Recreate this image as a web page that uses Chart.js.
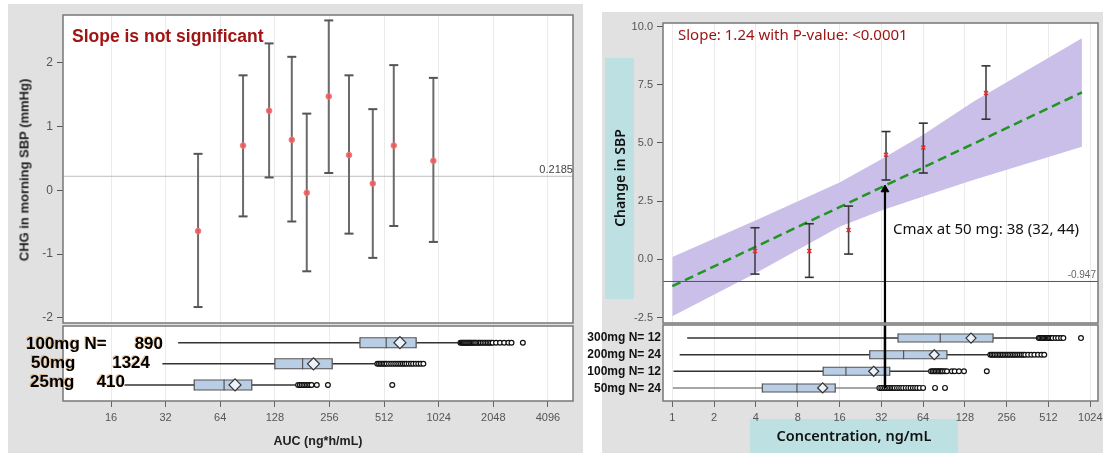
<!DOCTYPE html>
<html><head><meta charset="utf-8">
<script src="https://cdn.jsdelivr.net/npm/chart.js@4/dist/chart.umd.min.js"></script>
<style>
html,body{margin:0;padding:0;background:#fff;width:1103px;height:453px;overflow:hidden;font-family:"Liberation Sans",Arial,sans-serif;}
.bg{position:absolute;}
canvas{position:absolute;}
.t{position:absolute;white-space:nowrap;line-height:1;}
.rot{position:absolute;white-space:nowrap;line-height:1;transform:translate(-50%,-50%) rotate(-90deg);}
.row{font-weight:bold;font-size:17px;color:#000;text-shadow:-1px -1px 0 rgba(220,130,40,0.45);}
.rrow{font-weight:bold;font-size:12px;color:#111;text-align:right;width:80px;}
</style></head><body>
<div class="bg" style="left:8px;top:4px;width:575px;height:449px;background:#e1e1e1"></div>
<div class="bg" style="left:602px;top:12px;width:501px;height:441px;background:#e1e1e1"></div>
<div class="bg" style="left:605px;top:58px;width:29px;height:241px;background:#bde1e3"></div>
<div class="bg" style="left:750px;top:419px;width:208px;height:34px;background:#bde1e3"></div>

<canvas id="lt" width="572" height="320" style="left:8px;top:4px"></canvas>
<canvas id="lb" width="572" height="129" style="left:8px;top:324px"></canvas>
<canvas id="rt" width="501" height="312" style="left:602px;top:12px"></canvas>
<canvas id="rb" width="501" height="130" style="left:602px;top:323px"></canvas>

<!-- left panel texts -->
<div class="t" style="left:72px;top:28px;font-size:17.5px;font-weight:bold;color:#a01414">Slope is not significant</div>
<div class="t" style="left:500px;width:73px;text-align:right;top:164px;font-size:11px;color:#444">0.2185</div>
<div class="rot" style="left:24px;top:170px;font-size:13px;font-weight:bold;color:#222">CHG in morning SBP (mmHg)</div>
<div class="t" style="left:258px;width:120px;text-align:center;top:435px;font-size:12.5px;font-weight:bold;color:#222">AUC (ng*h/mL)</div>
<div class="t row" style="left:26px;top:335px">100mg N=</div>
<div class="t row" style="left:103px;width:60px;text-align:right;top:335px">890</div>
<div class="t row" style="left:31px;top:354px">50mg</div>
<div class="t row" style="left:90px;width:60px;text-align:right;top:354px">1324</div>
<div class="t row" style="left:30px;top:373px">25mg</div>
<div class="t row" style="left:65px;width:60px;text-align:right;top:373px">410</div>

<!-- right panel texts -->
<div class="t" style="left:678px;top:27px;font-size:15px;font-family:'Noto Sans',sans-serif;color:#9c1010">Slope: 1.24 with P-value: &lt;0.0001</div>
<div class="t" style="left:893px;top:221px;font-size:15px;font-family:'Noto Sans',sans-serif;color:#111">Cmax at 50 mg: 38 (32, 44)</div>
<div class="t" style="left:1040px;width:56px;text-align:right;top:270px;font-size:10px;color:#666">-0.947</div>
<div class="rot" style="left:620px;top:178px;font-size:14px;font-weight:600;font-family:'Noto Sans',sans-serif;color:#111">Change in SBP</div>
<div class="t" style="left:750px;width:208px;text-align:center;top:428px;font-size:14.5px;font-weight:600;font-family:'Noto Sans',sans-serif;color:#111">Concentration, ng/mL</div>
<div class="t rrow" style="left:581px;top:331px">300mg N= 12</div>
<div class="t rrow" style="left:581px;top:348px">200mg N= 24</div>
<div class="t rrow" style="left:581px;top:365px">100mg N= 12</div>
<div class="t rrow" style="left:581px;top:382px">50mg N= 24</div>

<script>
// ---------- LEFT PANEL DATA ----------
const aucMid   = [48.3, 85.5, 119, 158.7, 191.9, 253.7, 328, 443.6, 579, 957];
const chgMean  = [-0.64, 0.70, 1.245, 0.79, -0.04, 1.47, 0.55, 0.105, 0.70, 0.46];
const chgUpper = [0.57, 1.80, 2.30, 2.09, 1.20, 2.66, 1.80, 1.27, 1.96, 1.76];
const chgLower = [-1.83, -0.41, 0.20, -0.49, -1.27, 0.27, -0.68, -1.06, -0.56, -0.81];
const chgRef   = 0.2185;
const aucTicks  = [16, 32, 64, 128, 256, 512, 1024, 2048, 4096];
const aucLabels = ['16','32','64','128','256','512','1024','2048','4096'];
const chgTicks  = [-2, -1, 0, 1, 2];
const chgLabels = ['-2','-1','0','1','2'];
// left box plots (rows top to bottom: 100mg, 50mg, 25mg)
const lDose   = ['100mg', '50mg', '25mg'];
const lN      = [890, 1324, 410];
const lWLo    = [37.5, 30.7, 19];
const lQ1     = [377, 128, 46];
const lMed    = [526, 182, 67.2];
const lMean   = [626, 209, 77.2];
const lQ3     = [769, 265, 95.5];
const lWHi    = [1343, 467, 169];
const lOut100 = [1350,1370,1390,1410,1430,1450,1470,1490,1510,1530,1550,1575,1600,1625,1650,1690,1720,1750,1790,1830,1870,1910,1950,1990,2030,2120,2230,2350,2480,2580,2980];
const lOut50  = [470,480,490,500,510,520,530,545,560,575,590,605,620,635,650,665,680,700,720,740,765,790,815,843];
const lOut25  = [172,176,180,184,188,192,196,200,204,218,251,568];

// ---------- RIGHT PANEL DATA ----------
const concMid  = [3.94, 9.70, 18.6, 34.6, 64.2, 181.6];
const sbpMean  = [0.36, 0.36, 1.26, 4.49, 4.80, 7.14];
const sbpUpper = [1.36, 1.53, 2.29, 5.49, 5.85, 8.31];
const sbpLower = [-0.63, -0.77, 0.23, 3.41, 3.71, 6.02];
const sbpRef   = -0.947;
const fitConc  = [1, 891];
const fitSbp   = [-1.15, 7.17];
const bandConc = [1, 4, 16, 32, 64, 147, 891];
const bandUp   = [0.1, 1.68, 3.3, 4.3, 5.35, 6.77, 9.5];
const bandLo   = [-2.44, -0.58, 1.4, 2.1, 2.7, 3.41, 4.84];
const cmaxConc = 34;
const cmaxTip  = 3.0;
const concTicks  = [1,2,4,8,16,32,64,128,256,512,1024];
const concLabels = ['1','2','4','8','16','32','64','128','256','512','1024'];
const sbpTicks   = [-2.5, 0, 2.5, 5, 7.5, 10];
const sbpLabels  = ['-2.5','0.0','2.5','5.0','7.5','10.0'];
// right box plots (rows top to bottom: 300mg, 200mg, 100mg, 50mg)
const rDose  = ['300mg','200mg','100mg','50mg'];
const rN     = [12, 24, 12, 24];
const rWLo   = [1.28, 1.13, 1.02, 1.01];
const rQ1    = [42.2, 26.4, 12.2, 4.45];
const rMed   = [85, 46.3, 17.8, 7.9];
const rMean  = [141.6, 77, 28.2, 12.1];
const rQ3    = [204, 95, 36.8, 14.9];
const rWHi   = [434, 193, 72, 30.3];
const rOut300 = [436,445,455,465,475,485,495,505,515,525,537,549,575,600,630,655,877];
const rOut200 = [195,200,205,210,216,222,228,234,240,247,254,261,268,276,284,292,300,309,318,328,338,348,365,385,405,430,455,477];
const rOut100 = [73,75,77,79,81,83,85,87,89,92,95,103,108,116,126,184];
const rOut50  = [31,32,33,34,35,36,37,38,39,40,41.5,43,44.5,46,48,50,52,54,56,58,60.5,64,78,92];

// ---------- helpers ----------
const frame = {id:'frame',
  beforeDraw(c){const {ctx, chartArea:a}=c; ctx.save(); ctx.fillStyle='#fff'; ctx.fillRect(a.left,a.top,a.right-a.left,a.bottom-a.top); ctx.restore();},
  afterDatasetsDraw(c){const {ctx, chartArea:a}=c; ctx.save(); ctx.strokeStyle='#777'; ctx.lineWidth=1.5; ctx.strokeRect(a.left,a.top,a.right-a.left,a.bottom-a.top); ctx.restore();}};

function xScale(min,max,ticks,labels,show){
  return {type:'logarithmic',min,max,
    afterBuildTicks:s=>{s.ticks=ticks.map(v=>({value:v}));},
    afterFit:s=>{s.height=show?52:0;s.paddingLeft=0;s.paddingRight=0;},
    ticks:{display:show,autoSkip:false,maxRotation:0,minRotation:0,padding:4,color:'#555',font:{size:11},callback:(v,i)=>labels[i]},
    grid:{color:'#ebebeb',lineWidth:1,drawTicks:show,tickLength:6,tickColor:'#666',tickWidth:1},
    border:{display:false}};
}
function yScale(min,max,ticks,labels,w,fs){
  return {type:'linear',min,max,
    afterBuildTicks:s=>{s.ticks=ticks.map(v=>({value:v}));},
    afterFit:s=>{s.width=w;s.paddingTop=0;s.paddingBottom=0;},
    ticks:{padding:4,color:'#555',font:{size:fs},callback:(v,i)=>labels[i]},
    grid:{drawOnChartArea:false,drawTicks:true,tickLength:6,tickColor:'#555'},
    border:{display:false}};
}
function rowScale(min,max,w){
  return {type:'linear',min,max,reverse:true,ticks:{display:false},grid:{display:false},border:{display:false},
    afterFit:s=>{s.width=w;s.paddingTop=0;s.paddingBottom=0;}};
}
function mk(id,datasets,scales,padding){
  return new Chart(document.getElementById(id),{type:'scatter',data:{datasets},
    options:{animation:false,responsive:false,devicePixelRatio:1,events:[],layout:{padding,autoPadding:false},scales,
      plugins:{legend:{display:false},tooltip:{enabled:false}}},plugins:[frame]});
}
function errData(xs,lo,hi){const d=[];xs.forEach((x,i)=>{d.push({x,y:lo[i]},{x,y:hi[i]},{x,y:null});});return d;}
function pts(xs,ys){return xs.map((x,i)=>({x,y:ys[i]}));}
function boxSets(wLo,q1,med,mean,q3,wHi,outs,h,wcol){
  const sets=[];
  q1.forEach((_,i)=>{
    const r=i+1;
    sets.push({data:[{x:wLo[i],y:r},{x:wHi[i],y:r}],showLine:true,borderColor:wcol[i],borderWidth:1.5,pointRadius:0,order:6});
    sets.push({data:[{x:q1[i],y:r},{x:q3[i],y:r}],showLine:true,borderColor:'#555',borderWidth:h+2,pointRadius:0,order:5});
    sets.push({data:[{x:q1[i],y:r},{x:q3[i],y:r}],showLine:true,borderColor:'#b9cde5',borderWidth:h,pointRadius:0,order:4});
    sets.push({data:[{x:q1[i],y:r},{x:med[i],y:r},{x:q3[i],y:r}],pointStyle:'line',pointRotation:90,pointRadius:h/2+1,pointBorderColor:'#555',pointBorderWidth:1.2,order:3});
    sets.push({data:outs[i].map(x=>({x,y:r})),pointStyle:'circle',pointRadius:2.4,pointBackgroundColor:'#fff',pointBorderColor:'#111',pointBorderWidth:1.2,order:2});
    sets.push({data:[{x:mean[i],y:r}],pointStyle:'rectRot',pointRadius:h/2+1.5,pointBackgroundColor:'#eef2f9',pointBorderColor:'#333',pointBorderWidth:1.2,order:1});
  });
  return sets;
}

// ---------- LEFT TOP ----------
const LXMIN=8.7, LXMAX=5630, LYMIN=-2.08, LYMAX=2.745;
mk('lt',[
  {data:[{x:LXMIN,y:chgRef},{x:LXMAX,y:chgRef}],showLine:true,borderColor:'#bdbdbd',borderWidth:1,pointRadius:0,order:10},
  {data:errData(aucMid,chgLower,chgUpper),showLine:true,spanGaps:false,borderColor:'#6b6b6b',borderWidth:2,
   pointStyle:'line',pointRadius:4.5,pointBorderColor:'#555',pointBorderWidth:2,order:5},
  {data:pts(aucMid,chgMean),pointStyle:'circle',pointRadius:2.8,pointBackgroundColor:'rgba(236,90,90,0.9)',pointBorderColor:'rgba(240,120,120,1)',pointBorderWidth:1,order:1}
],{x:xScale(LXMIN,LXMAX,aucTicks,aucLabels,false),y:yScale(LYMIN,LYMAX,chgTicks,chgLabels,55,12)},{top:11,right:7,bottom:1,left:0});

// ---------- LEFT BOTTOM ----------
mk('lb',boxSets(lWLo,lQ1,lMed,lMean,lQ3,lWHi,[lOut100,lOut50,lOut25],9,['#333','#333','#333']),
  {x:xScale(LXMIN,LXMAX,aucTicks,aucLabels,true),y:rowScale(0.21,3.76,55)},{top:2,right:7,bottom:0,left:0});

// ---------- RIGHT TOP ----------
const RXMIN=0.857, RXMAX=1163, RYMIN=-2.73, RYMAX=10.15;
mk('rt',[
  {data:pts(bandConc,bandUp),showLine:true,borderWidth:0,borderColor:'rgba(0,0,0,0)',pointRadius:0,fill:'+1',backgroundColor:'#c9bfe8',order:20},
  {data:pts(bandConc,bandLo),showLine:true,borderWidth:0,borderColor:'rgba(0,0,0,0)',pointRadius:0,fill:false,order:21},
  {data:[{x:RXMIN,y:sbpRef},{x:RXMAX,y:sbpRef}],showLine:true,borderColor:'#555',borderWidth:1,pointRadius:0,order:15},
  {data:pts(fitConc,fitSbp),showLine:true,borderColor:'#1f961f',borderWidth:2.5,borderDash:[9,5],pointRadius:0,order:10},
  {data:errData(concMid,sbpLower,sbpUpper),showLine:true,spanGaps:false,borderColor:'#444',borderWidth:1.6,
   pointStyle:'line',pointRadius:4.5,pointBorderColor:'#333',pointBorderWidth:1.6,order:5},
  {data:pts(concMid,sbpMean),pointStyle:'crossRot',pointRadius:2.8,pointBorderColor:'#e03030',pointBorderWidth:1.5,order:3},
  {data:[{x:cmaxConc,y:RYMIN},{x:cmaxConc,y:cmaxTip}],showLine:true,borderColor:'#000',borderWidth:2.2,
   pointStyle:'triangle',pointRadius:[0,4.5],pointBackgroundColor:'#000',pointBorderColor:'#000',pointBorderWidth:1,order:1}
],{x:xScale(RXMIN,RXMAX,concTicks,concLabels,false),y:yScale(RYMIN,RYMAX,sbpTicks,sbpLabels,61,11)},{top:11,right:5,bottom:1,left:0});

// ---------- RIGHT BOTTOM ----------
const rbSets = boxSets(rWLo,rQ1,rMed,rMean,rQ3,rWHi,[rOut300,rOut200,rOut100,rOut50],7,['#333','#333','#333','#888']);
rbSets.push({data:[{x:cmaxConc,y:0.21},{x:cmaxConc,y:4}],showLine:true,borderColor:'#000',borderWidth:2.5,pointRadius:0,order:0});
mk('rb',rbSets,{x:xScale(RXMIN,RXMAX,concTicks,concLabels,true),y:rowScale(0.21,4.79,61)},{top:2,right:5,bottom:0,left:0});
</script>
</body></html>
